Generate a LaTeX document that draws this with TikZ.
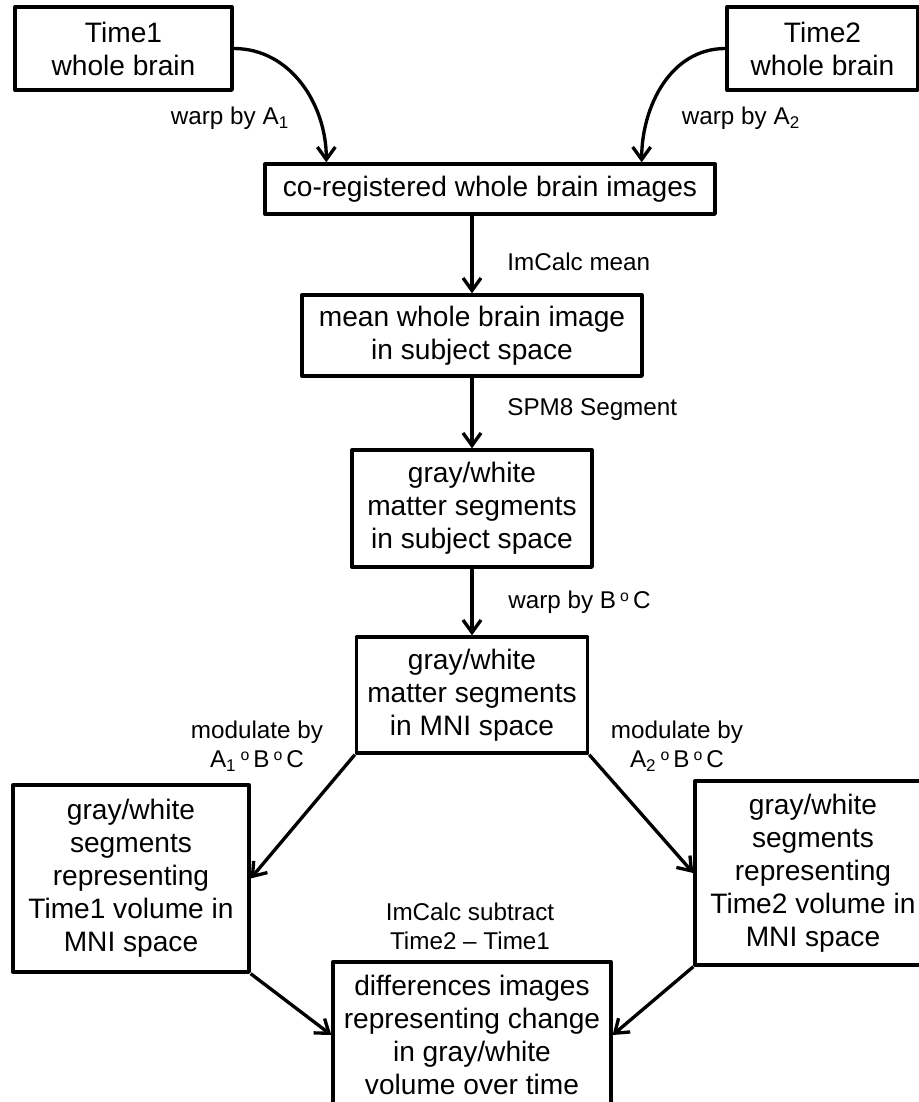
\documentclass[tikz,border=0pt]{standalone}
\usepackage{fontspec}
\setmainfont{Liberation Sans}
\usetikzlibrary{arrows.meta}
\newcommand{\boxfont}{\fontsize{16}{18.8}\selectfont}
\newcommand{\labfont}{\fontsize{13.8}{16.5}\selectfont}
\newcommand{\comp}{\,\raisebox{0.5ex}{\fontsize{9}{9}\selectfont o}\,}
\begin{document}
\begin{tikzpicture}[line join=round,>={Straight Barb[length=2.5mm,width=3.6mm]},
 box/.style={draw,line width=1.9pt,align=center,font=\boxfont,inner sep=0pt},
 lab/.style={align=center,font=\labfont,inner sep=0pt},
 flow/.style={->,line width=1.9pt}]
 \clip (0,0) rectangle (18.38,-22.04);
 % boxes
 \node[box,minimum width=4.34cm,minimum height=1.66cm] (t1) at (2.47,-0.97) {Time1\\whole brain};
 \node[box,minimum width=3.82cm,minimum height=1.66cm] (t2) at (16.45,-0.97) {Time2\\whole brain};
 \node[box,minimum width=9cm,minimum height=1cm] (reg) at (9.80,-3.78) {co-registered whole brain images};
 \node[box,minimum width=6.8cm,minimum height=1.62cm] (mean) at (9.44,-6.71) {mean whole brain image\\in subject space};
 \node[box,minimum width=4.8cm,minimum height=2.34cm] (seg) at (9.44,-10.17) {gray/white\\matter segments\\in subject space};
 \node[box,minimum width=4.62cm,minimum height=2.32cm] (mni) at (9.44,-13.90) {gray/white\\matter segments\\in MNI space};
 \node[box,minimum width=4.72cm,minimum height=3.74cm] (tone) at (2.62,-17.57) {gray/white\\segments\\representing\\Time1 volume in\\MNI space};
 \node[box,minimum width=4.72cm,minimum height=3.68cm] (ttwo) at (16.26,-17.46) {gray/white\\segments\\representing\\Time2 volume in\\MNI space};
 \node[box,minimum width=5.56cm,minimum height=2.92cm] (diff) at (9.44,-20.70) {differences images\\representing change\\in gray/white\\volume over time};
 % labels
 \node[lab] (lwa) at (4.60,-2.36) {warp by A\textsubscript{1}};
 \node[lab] (lwb) at (14.82,-2.36) {warp by A\textsubscript{2}};
 \node[lab,anchor=west] (lmean) at (10.14,-5.24) {ImCalc mean};
 \node[lab,anchor=west] (lspm) at (10.14,-8.20) {SPM8 Segment};
 \node[lab,anchor=west] (lbc) at (10.16,-12.04) {warp by B\comp C};
 \node[lab] (lmoda) at (5.14,-14.92) {modulate by\\A\textsubscript{1}\comp B\comp C};
 \node[lab] (lmodb) at (13.54,-14.92) {modulate by\\A\textsubscript{2}\comp B\comp C};
 \node[lab] (lsub) at (9.40,-18.52) {ImCalc subtract\\Time2 -- Time1};
 % arrows
 \draw[flow] (t1.east) to[out=0,in=90] ([xshift=1.26cm]reg.north west);
 \draw[flow] (t2.west) to[out=180,in=90] ([xshift=-1.5cm]reg.north east);
 \draw[flow] (mean.north |- reg.south) -- (mean.north);
 \draw[flow] (mean.south) -- (seg.north);
 \draw[flow] (seg.south) -- (mni.north);
 \draw[flow] (mni.south west) -- (tone.east);
 \draw[flow] (mni.south east) -- (ttwo.west);
 \draw[flow] (tone.south east) -- (diff.west);
 \draw[flow] (ttwo.south west) -- (diff.east);
\end{tikzpicture}
\end{document}
